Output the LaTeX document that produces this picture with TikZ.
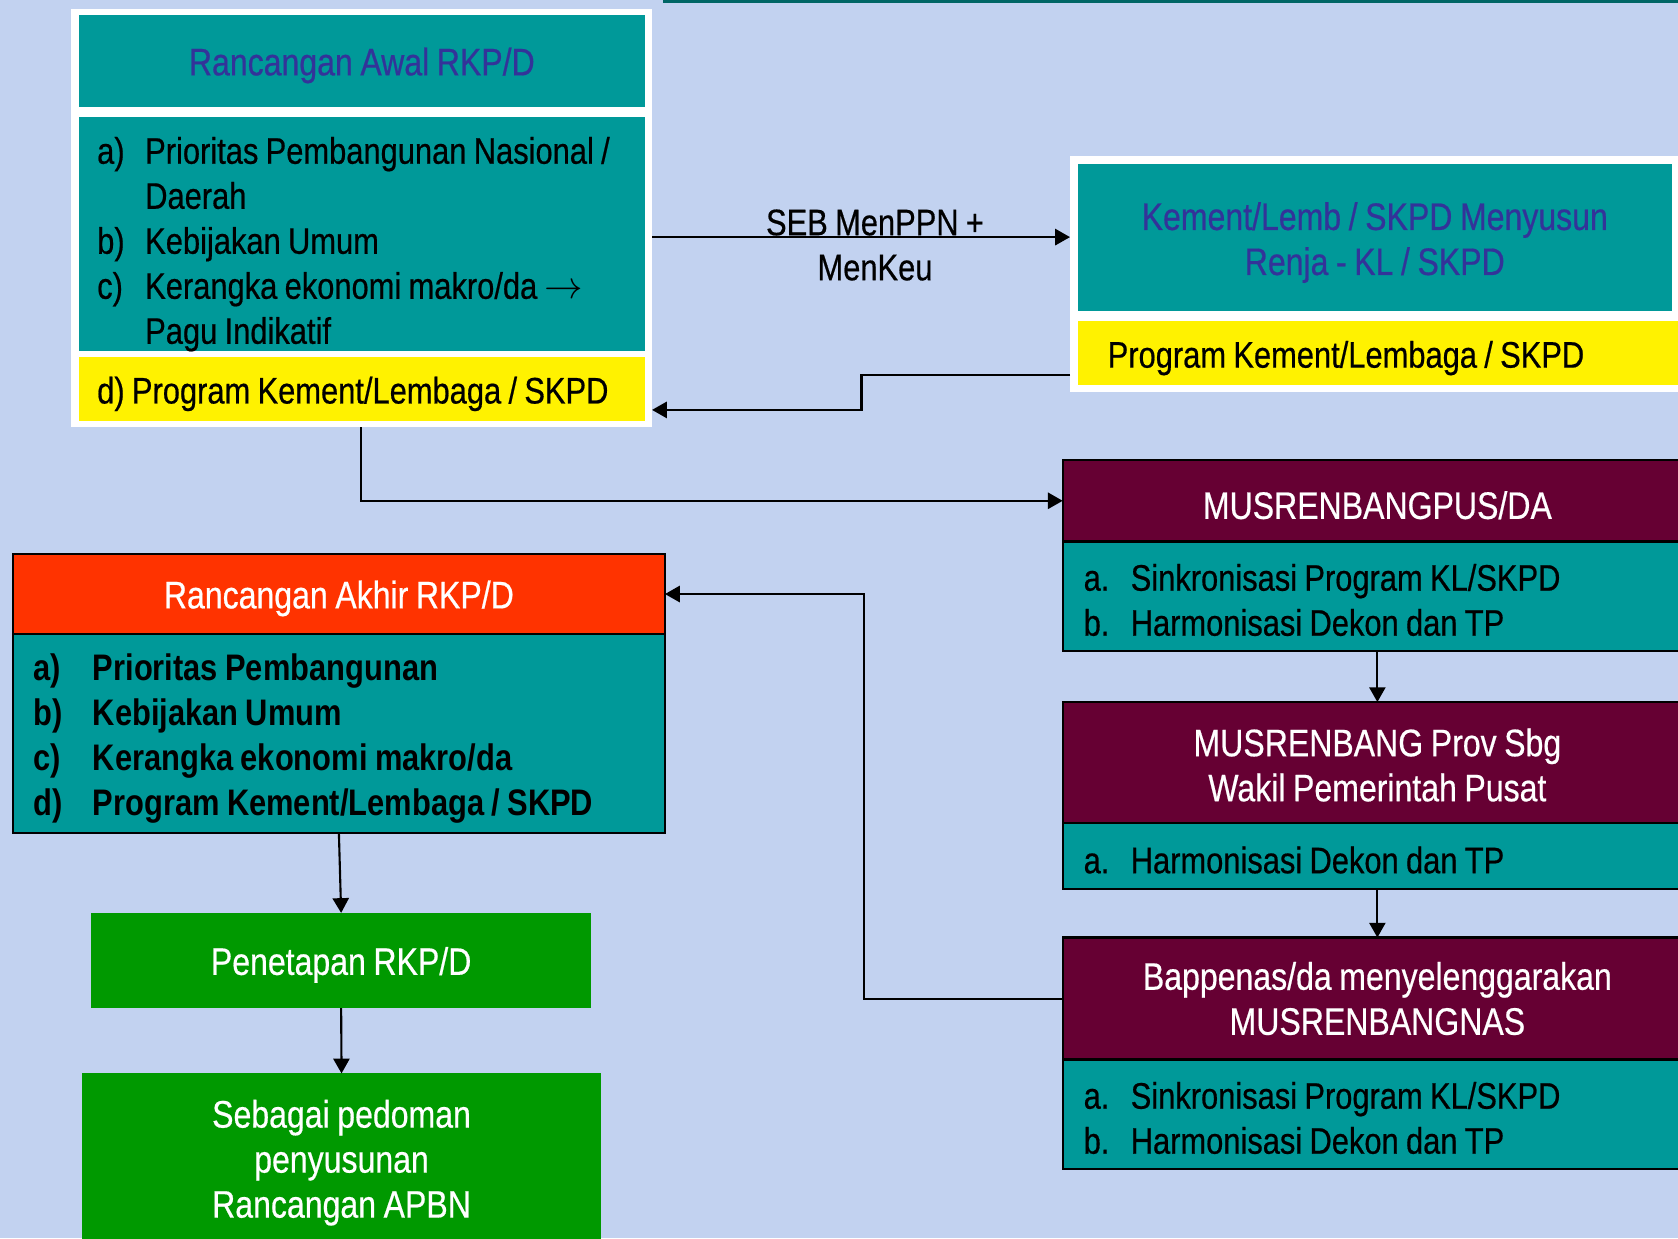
\documentclass[tikz,border=0pt]{standalone}
\usepackage{fontspec}
\setmainfont{Liberation Sans}[FakeStretch=0.836, WordSpace=0.85, UprightFeatures={FakeBold=0.5}]
\usetikzlibrary{arrows.meta, positioning, calc}

\definecolor{bgblue}{RGB}{194,210,240}
\definecolor{tealbox}{RGB}{0,153,153}
\definecolor{wine}{RGB}{102,0,51}
\definecolor{redorange}{RGB}{255,51,0}
\definecolor{greenbox}{RGB}{0,153,0}
\definecolor{titlepurple}{RGB}{51,51,153}
\definecolor{topline}{RGB}{0,102,102}

% list entry: label box of given width, then text
\newcommand{\itm}[3]{\makebox[#1][l]{#2}#3}
% left-aligned block: width, first-line strut, lines
\newcommand{\lst}[3]{\begin{minipage}{#1}\raggedright\rule{0pt}{#2}#3\end{minipage}}
% centred block: width, first-line strut, lines
\newcommand{\ctr}[3]{\begin{minipage}{#1}\centering\rule{0pt}{#2}#3\end{minipage}}

\begin{document}
\begin{tikzpicture}[
    x=0.01cm, y=-0.01cm,
    font=\fontsize{10.5}{12.8}\selectfont,
    textdrop/.style={execute at begin node={\rule{0pt}{#1}}},
    box/.style={rectangle, anchor=north west, inner sep=0pt, outer sep=0pt},
    whiteframe/.style={box, fill=white},
    titlebox/.style={box, fill=tealbox, align=center, text=titlepurple, font=\fontsize{10.9}{12.8}\selectfont, textdrop=10.4pt},
    listbox/.style={box, fill=tealbox},
    progbox/.style={box, fill=yellow},
    headbox/.style={box, align=center, text=white, draw=black, line width=0.6pt, font=\fontsize{10.9}{12.8}\selectfont, textdrop=10.4pt},
    greenbox/.style={box, fill=greenbox, align=center, text=white, font=\fontsize{10.9}{12.8}\selectfont, textdrop=10.4pt},
    arr/.style={-{Triangle[length=4.2pt, width=4.6pt]}, line width=0.6pt}
]
    \path[use as bounding box, fill=bgblue] (0,0) rectangle (1678,1238);
    \clip (0,0) rectangle (1678,1238);
    \fill[topline] (663,0) rectangle (1678,2.5);

    % Rancangan Awal (top left)
    \node[whiteframe, minimum width=5.811cm, minimum height=4.184cm] (awalframe) at (70.6,8.6) {};
    \node[titlebox, minimum width=5.65cm, minimum height=0.92cm] (awal) at (79.2,15) {Rancangan Awal RKP/D};
    \node[listbox, minimum width=5.65cm, minimum height=2.323cm] (awallist) at (79.2,116.6) {\lst{5.29cm}{13.4pt}{%
        \itm{0.48cm}{a)}{Prioritas Pembangunan Nasional /}\\
        \itm{0.48cm}{}{Daerah}\\
        \itm{0.48cm}{b)}{Kebijakan Umum}\\
        \itm{0.48cm}{c)}{Kerangka ekonomi makro/da $\rightarrow$}\\
        \itm{0.48cm}{}{Pagu Indikatif}}};
    \node[progbox, minimum width=5.65cm, minimum height=0.632cm] (awalprog) at (79.2,357.4) {\lst{5.29cm}{10.4pt}{d) Program Kement/Lembaga / SKPD}};

    % Renja (top right)
    \node[whiteframe, minimum width=6.2cm, minimum height=2.357cm] (renjaframe) at (1070,156) {};
    \node[titlebox, minimum width=5.938cm, minimum height=1.467cm] (renja) at (1077.7,163.7) {\ctr{5.9cm}{11pt}{Kement/Lemb / SKPD Menyusun\\Renja - KL / SKPD}};
    \node[progbox, minimum width=6.1cm, minimum height=0.643cm] (renjaprog) at (1077.7,321) {\lst{5.5cm}{10.4pt}{Program Kement/Lembaga / SKPD}};

    % Musrenbang chain (right)
    \node[headbox, fill=wine, minimum width=6.29cm, minimum height=0.815cm] (mus) at (1062.7,460) {MUSRENBANGPUS/DA};
    \node[listbox, draw=black, line width=0.6pt, minimum width=6.29cm, minimum height=1.092cm] (muslist) at (1062.7,541.5) {\lst{5.87cm}{9.8pt}{%
        \itm{0.47cm}{a.}{Sinkronisasi Program KL/SKPD}\\
        \itm{0.47cm}{b.}{Harmonisasi Dekon dan TP}}};
    \node[headbox, fill=wine, minimum width=6.29cm, minimum height=1.21cm] (prov) at (1062.7,702) {\ctr{6.2cm}{9.3pt}{MUSRENBANG Prov Sbg\\Wakil Pemerintah Pusat}};
    \node[listbox, draw=black, line width=0.6pt, minimum width=6.29cm, minimum height=0.663cm] (provlist) at (1062.7,823) {\lst{5.87cm}{9.8pt}{%
        \itm{0.47cm}{a.}{Harmonisasi Dekon dan TP}}};
    \node[headbox, fill=wine, minimum width=6.29cm, minimum height=1.22cm] (bappenas) at (1062.7,937.5) {Bappenas/da menyelenggarakan\\MUSRENBANGNAS};
    \node[listbox, draw=black, line width=0.6pt, minimum width=6.29cm, minimum height=1.092cm] (bappenaslist) at (1062.7,1059.5) {\lst{5.87cm}{9.8pt}{%
        \itm{0.47cm}{a.}{Sinkronisasi Program KL/SKPD}\\
        \itm{0.47cm}{b.}{Harmonisasi Dekon dan TP}}};

    % Rancangan Akhir and outputs (left)
    \node[headbox, fill=redorange, minimum width=6.518cm, minimum height=0.792cm] (akhir) at (12.8,554.4) {Rancangan Akhir RKP/D};
    \node[listbox, draw=black, line width=0.6pt, minimum width=6.518cm, minimum height=1.99cm, font=\fontsize{10.5}{12.8}\selectfont\bfseries] (akhirlist) at (12.8,633.6) {\lst{6.098cm}{10.8pt}{%
        \itm{0.59cm}{a)}{Prioritas Pembangunan}\\
        \itm{0.59cm}{b)}{Kebijakan Umum}\\
        \itm{0.59cm}{c)}{Kerangka ekonomi makro/da}\\
        \itm{0.59cm}{d)}{Program Kement/Lembaga / SKPD}}};
    \node[greenbox, minimum width=5.0cm, minimum height=0.952cm] (penetapan) at (91,912.9) {Penetapan RKP/D};
    \node[greenbox, minimum width=5.18cm, minimum height=1.7cm] (pedoman) at (82.4,1073.4) {\ctr{5.1cm}{10.3pt}{Sebagai pedoman\\penyusunan\\Rancangan APBN}};

    % Connectors
    \draw[arr] (renja.west -| awalframe.east) -- (renja.west -| renjaframe.west);
    \node[align=center] (seb) at (875,245) {SEB MenPPN +\\MenKeu};
    \coordinate (progout) at (1070,374.6);
    \draw[arr] (progout) -- (861.5,374.6) -- (861.5,409.9) -- (awalframe.east |- 0,409.9);
    \draw[arr] (awalframe.south) |- (mus.west);
    \draw[arr] (muslist.south) -- (prov.north);
    \draw[arr] (provlist.south) -- (bappenas.north);
    \draw[arr] (bappenas.west) -| (863.6,800) |- (akhir.east);
    \draw[arr] (akhirlist.south) -- (penetapan.north);
    \draw[arr] (penetapan.south) -- (pedoman.north);
\end{tikzpicture}
\end{document}
